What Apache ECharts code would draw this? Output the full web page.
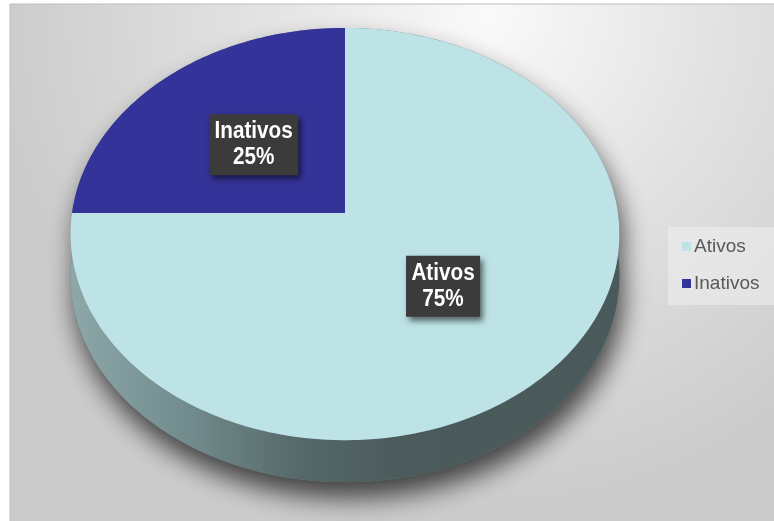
<!DOCTYPE html>
<html>
<head>
<meta charset="utf-8">
<title>Ativos x Inativos</title>
<script src="https://cdn.jsdelivr.net/npm/echarts@6/dist/echarts.min.js"></script>
<style>
  html, body { margin: 0; padding: 0; background: #fff; }
  #main { width: 774px; height: 521px; }
</style>
</head>
<body>
<div id="main"></div>
<script>
// dados do gráfico
var categorias = ["Ativos", "Inativos"];
var valores = [75, 25];
var cores = ["#bde3e6", "#343399"];

var total = valores.reduce(function (a, b) { return a + b; }, 0);

// pizza "3D" em perspectiva
var CX = 345, CY = 213, RX = 273, RY = 204, K = 0.102, DEPTH = 42;

function proj(theta, r) {
  var u = Math.sin(theta) * r;
  var v = Math.cos(theta) * r;
  var s = 1 / (1 + K * v);
  return [CX + RX * u * s, CY - RY * v * s];
}

function arc(a0, a1, dy) {
  var pts = [];
  var n = Math.max(2, Math.ceil(Math.abs(a1 - a0) / 0.02));
  for (var i = 0; i <= n; i++) {
    var p = proj(a0 + (a1 - a0) * i / n, 1);
    pts.push([p[0], p[1] + dy]);
  }
  return pts;
}

function sideFill() {
  return new echarts.graphic.LinearGradient(0, 0, 1, 0, [
    { offset: 0, color: "#8ea8aa" },
    { offset: 0.22, color: "#718a8b" },
    { offset: 0.42, color: "#566869" },
    { offset: 0.6, color: "#4b5b5c" },
    { offset: 1, color: "#4a5a5b" }
  ]);
}

function makeRender(idx) {
  return function (params, api) {
    var before = 0;
    for (var i = 0; i < idx; i++) before += valores[i];
    var a0 = before / total * Math.PI * 2;
    var a1 = (before + api.value(0)) / total * Math.PI * 2;
    var children = [];

    // lateral visível (metade da frente)
    var s0 = Math.max(a0, Math.PI / 2), s1 = Math.min(a1, Math.PI * 1.5);
    if (s1 > s0) {
      children.push({
        type: "polygon",
        z2: 1,
        shape: { points: arc(s0, s1, 0).concat(arc(s1, s0, DEPTH)) },
        style: { fill: sideFill() }
      });
    }

    // face superior
    children.push({
      type: "polygon",
      z2: 5,
      shape: { points: [[CX, CY]].concat(arc(a0, a1, 0)) },
      style: { fill: cores[idx] }
    });

    // rótulo
    var lp = proj((a0 + a1) / 2, 0.49);
    var pct = Math.round(api.value(0) / total * 100) + "%";
    children.push({
      type: "text",
      z2: 10,
      x: lp[0],
      y: lp[1],
      scaleX: 0.9,
      style: {
        text: categorias[idx] + "\n" + pct,
        fill: "#ffffff",
        font: "bold 23px 'Liberation Sans', Arial, sans-serif",
        lineHeight: 26,
        align: "center",
        verticalAlign: "middle",
        backgroundColor: "#3b3b3b",
        padding: [5, 6, 4, 6],
        shadowBlur: 6,
        shadowColor: "rgba(0,0,0,0.55)",
        shadowOffsetX: 3,
        shadowOffsetY: 4
      }
    });

    return { type: "group", children: children };
  };
}

var myChart = echarts.init(document.getElementById("main"));
var option;

// silhueta da pizza, só para a sombra
var silhueta = arc(-Math.PI / 2, Math.PI / 2, 0).concat(arc(Math.PI / 2, Math.PI * 1.5, DEPTH));

option = {
  animation: false,
  graphic: [
    {
      type: "rect",
      z: -10,
      silent: true,
      shape: { x: 10, y: 4, width: 770, height: 520 },
      style: {
        fill: new echarts.graphic.RadialGradient(0.62, 0.02, 0.95, [
          { offset: 0, color: "#fafafa" },
          { offset: 0.45, color: "#e3e3e3" },
          { offset: 1, color: "#cbcbcb" }
        ]),
        stroke: "#bdbdbd",
        lineWidth: 1
      }
    },
    {
      type: "polygon",
      z: 1,
      silent: true,
      shape: { points: silhueta },
      style: {
        fill: "#6f8384",
        shadowBlur: 26,
        shadowColor: "rgba(30,30,30,0.8)",
        shadowOffsetX: 4,
        shadowOffsetY: 16
      }
    }
  ],
  legend: {
    orient: "vertical",
    left: 668,
    top: 227,
    data: categorias,
    icon: "rect",
    itemWidth: 9,
    itemHeight: 9,
    itemGap: 18,
    padding: [10, 20, 12, 14],
    backgroundColor: "rgba(240,240,240,0.55)",
    selectedMode: false,
    textStyle: {
      color: "#595959",
      fontSize: 19,
      fontFamily: "'Liberation Sans', Arial, sans-serif",
      padding: [0, 0, 0, -2]
    }
  },
  series: categorias.map(function (nome, i) {
    return {
      type: "custom",
      name: nome,
      coordinateSystem: "none",
      itemStyle: { color: cores[i] },
      renderItem: makeRender(i),
      data: [valores[i]]
    };
  })
};

option && myChart.setOption(option);
</script>
</body>
</html>
